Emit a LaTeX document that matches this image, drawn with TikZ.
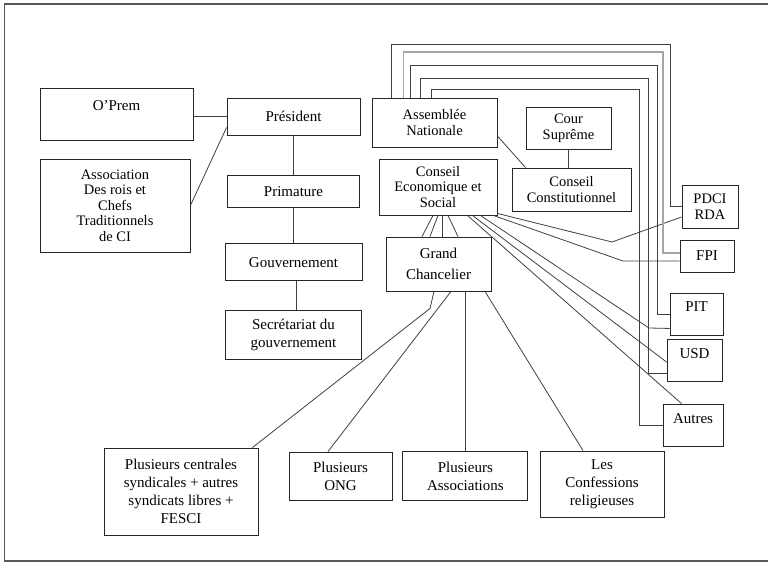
\documentclass[tikz,border=0pt]{standalone}
\usepackage{fontspec}
\setmainfont{Liberation Serif}
\usetikzlibrary{positioning}

\begin{document}
\begin{tikzpicture}[
    x=1pt, y=-1pt,
    block/.style={
        rectangle,
        draw=black!85,
        line width=0.9pt,
        align=center,
        inner sep=0pt,
        font=\fontsize{15}{18}\selectfont
    },
    tight/.style={font=\fontsize{14.5}{15.5}\selectfont},
    loose/.style={font=\fontsize{15}{21}\selectfont},
    upper/.style={text depth=#1},
    link/.style={draw=black!75, line width=0.8pt},
    greylink/.style={draw=black!35, line width=1.6pt}
]
\useasboundingbox (0,0) rectangle (768,562);
\draw[black!65, line width=1.2pt] (4.5,4) rectangle (790,561);

% Left column: presidency and government
\node[block, upper=17pt, minimum width=153pt, minimum height=52pt] (oprem) at (116.5,114) {O’Prem};
\node[block, tight, minimum width=150pt, minimum height=93pt] (chefs) at (115,205.5)
{Association\\Des rois et\\Chefs\\Traditionnels\\de CI};

\node[block, minimum width=133pt, minimum height=37pt] (pres) at (293.5,116.5) {Président};
\node[block, minimum width=132pt, minimum height=32pt, below=40pt of pres] (prim) {Primature};
\node[block, minimum width=137pt, minimum height=37pt, below=35pt of prim] (gouv) {Gouvernement};
\node[block, minimum width=136pt, minimum height=49pt, below=29pt of gouv] (secr)
{Secrétariat du\\gouvernement};

% Institutions
\node[block, tight, minimum width=125pt, minimum height=49pt] (an) at (434.5,122.5) {Assemblée\\Nationale};
\node[block, tight, minimum width=85pt, minimum height=42pt] (cour) at (568.5,128) {Cour\\Suprême};
\node[block, tight, minimum width=119pt, minimum height=43pt] (cc) at (571.5,189.5) {Conseil\\Constitutionnel};
\node[block, tight, minimum width=118pt, minimum height=56pt] (ces) at (438,187)
{Conseil\\Economique et\\Social};
\node[block, loose, minimum width=105pt, minimum height=54pt] (gc) at (438.5,264) {Grand\\Chancelier};

% Parties
\node[block, tight, minimum width=56pt, minimum height=43pt] (pdci) at (710,206.5) {PDCI\\RDA};
\node[block, minimum width=54pt, minimum height=32pt] (fpi) at (707,256) {FPI};
\node[block, upper=14pt, minimum width=53pt, minimum height=42pt] (pit) at (696.5,314) {PIT};
\node[block, upper=12pt, minimum width=55pt, minimum height=42pt] (usd) at (694.5,360) {USD};
\node[block, upper=12pt, minimum width=60pt, minimum height=42pt] (autres) at (693,425) {Autres};

% Civil society
\node[block, minimum width=154pt, minimum height=87pt] (synd) at (181,491.5)
{Plusieurs centrales\\syndicales + autres\\syndicats libres +\\FESCI};
\node[block, minimum width=103pt, minimum height=48pt] (ong) at (340.5,476) {Plusieurs\\ONG};
\node[block, minimum width=125pt, minimum height=49pt, right=10pt of ong] (assoc) {Plusieurs\\Associations};
\node[block, minimum width=124pt, minimum height=66pt] (conf) at (602,484)
{Les\\Confessions\\religieuses};

% Links, left
\draw[link] (oprem.east |- pres.west) -- (pres.west);
\draw[link] (chefs.east) -- ([yshift=8pt]pres.south west);
\draw[link] (pres.south) -- (pres.south |- prim.north);
\draw[link] (prim.south) -- (prim.south |- gouv.north);
\draw[link] ([xshift=3pt]gouv.south) -- ([xshift=3pt]gouv.south |- secr.north);

% Links, institutions
\draw[link] ([yshift=-13.5pt]an.east) -- ([xshift=14pt]cc.north west);
\draw[link] (cour.south) -- (cour.south |- cc.north);
\foreach \a/\b in {-5/-16.5, 0/-8.5, 4/3.5, 10/19.5}
    \draw[link] ([xshift=\a pt]ces.south) -- ([xshift=\b pt]gc.north);

% Grand Chancelier to civil society
\draw[link] ([xshift=-4.5pt]gc.south) -- ++(-4,17) -- ([xshift=-6pt]synd.north east);
\draw[link] ([xshift=12.5pt]gc.south) -- ([xshift=-12.5pt]ong.north);
\draw[link] (gc.south -| assoc.north) -- (assoc.north);
\draw[link] ([xshift=46.5pt]gc.south) -- ([xshift=-19pt]conf.north);

% Conseil Economique to parties
\draw[link] ([yshift=2pt]ces.south east) -- (612,242) -- ([yshift=-10.5pt]pdci.west);
\draw[link] ([xshift=-4pt]ces.south east) -- (623,261) -- ([yshift=-5pt]fpi.west);
\draw[link] ([xshift=-17pt]ces.south east) -- (649,328) -- ([yshift=7pt]pit.south west);
\draw[link] ([xshift=-25pt]ces.south east) -- ([yshift=-2pt]usd.west);
\draw[link] ([xshift=-30pt]ces.south east) -- ([xshift=19pt]autres.north west);

% Assemblee to parties
\draw[link] ([xshift=20pt]an.north west) |- (670,44) |- (pdci.west);
\draw[greylink] ([xshift=32pt]an.north west) |- (663,52) |- ([yshift=3pt]fpi.west);
\draw[link] ([xshift=39pt]an.north west) |- (657,65) |- (pit.west);
\draw[link] ([xshift=49pt]an.north west) |- (648,78) |- ([yshift=-13pt]usd.west);
\draw[link] ([xshift=60pt]an.north west) |- (639,89) |- (autres.west);

\end{tikzpicture}
\end{document}
